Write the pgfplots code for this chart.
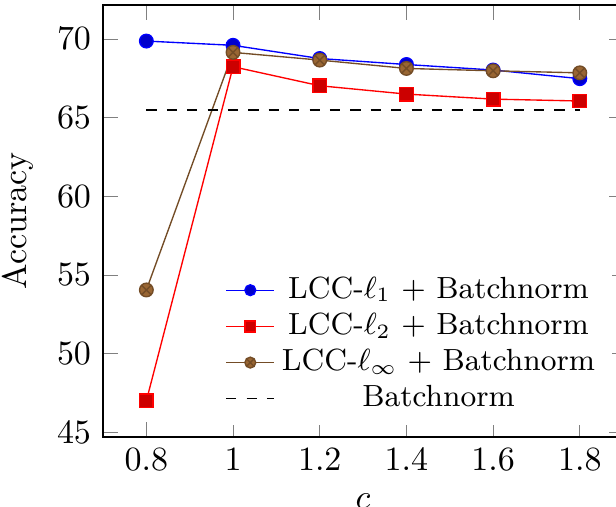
\documentclass[border=0pt]{standalone}
\usepackage{pgfplots}
\pgfplotsset{compat=1.18}
\begin{document}
\begin{tikzpicture}
\begin{axis}[
  scale only axis,
  width=153pt, height=127pt,
  xtick={0.8,1,1.2,1.4,1.6,1.8},
  ytick={45,50,55,60,65,70},
  xlabel={$c$},
  ylabel={Accuracy},
  legend cell align=center,
  legend style={draw=none, fill=white, font=\small, row sep=-1.2pt, at={(0.98,0.025)}, anchor=south east},
  legend image code/.code={\draw[mark size=1.6pt, mark repeat=2, mark phase=2] plot coordinates {(0cm,0cm) (0.25cm,0cm) (0.5cm,0cm)};},
]
\addplot coordinates {(0.8,69.87) (1,69.6) (1.2,68.76) (1.4,68.38) (1.6,68.03) (1.8,67.48)};
\addlegendentry{LCC-$\ell_1$ + Batchnorm}
\addplot coordinates {(0.8,47.0) (1,68.24) (1.2,67.03) (1.4,66.5) (1.6,66.18) (1.8,66.06)};
\addlegendentry{LCC-$\ell_2$ + Batchnorm}
\addplot coordinates {(0.8,54.05) (1,69.15) (1.2,68.66) (1.4,68.13) (1.6,67.98) (1.8,67.85)};
\addlegendentry{LCC-$\ell_\infty$ + Batchnorm}
\addplot[black, dashed] coordinates {(0.8,65.48) (1.8,65.48)};
\addlegendentry{Batchnorm}
\coordinate (bl) at (rel axis cs:0,0);
\coordinate (tr) at (rel axis cs:1,1);
\end{axis}
\pgfresetboundingbox
\path ([xshift=-30.3pt,yshift=-20.5pt]bl) rectangle ([xshift=-2.1pt,yshift=1.5pt]tr);
\end{tikzpicture}
\end{document}
